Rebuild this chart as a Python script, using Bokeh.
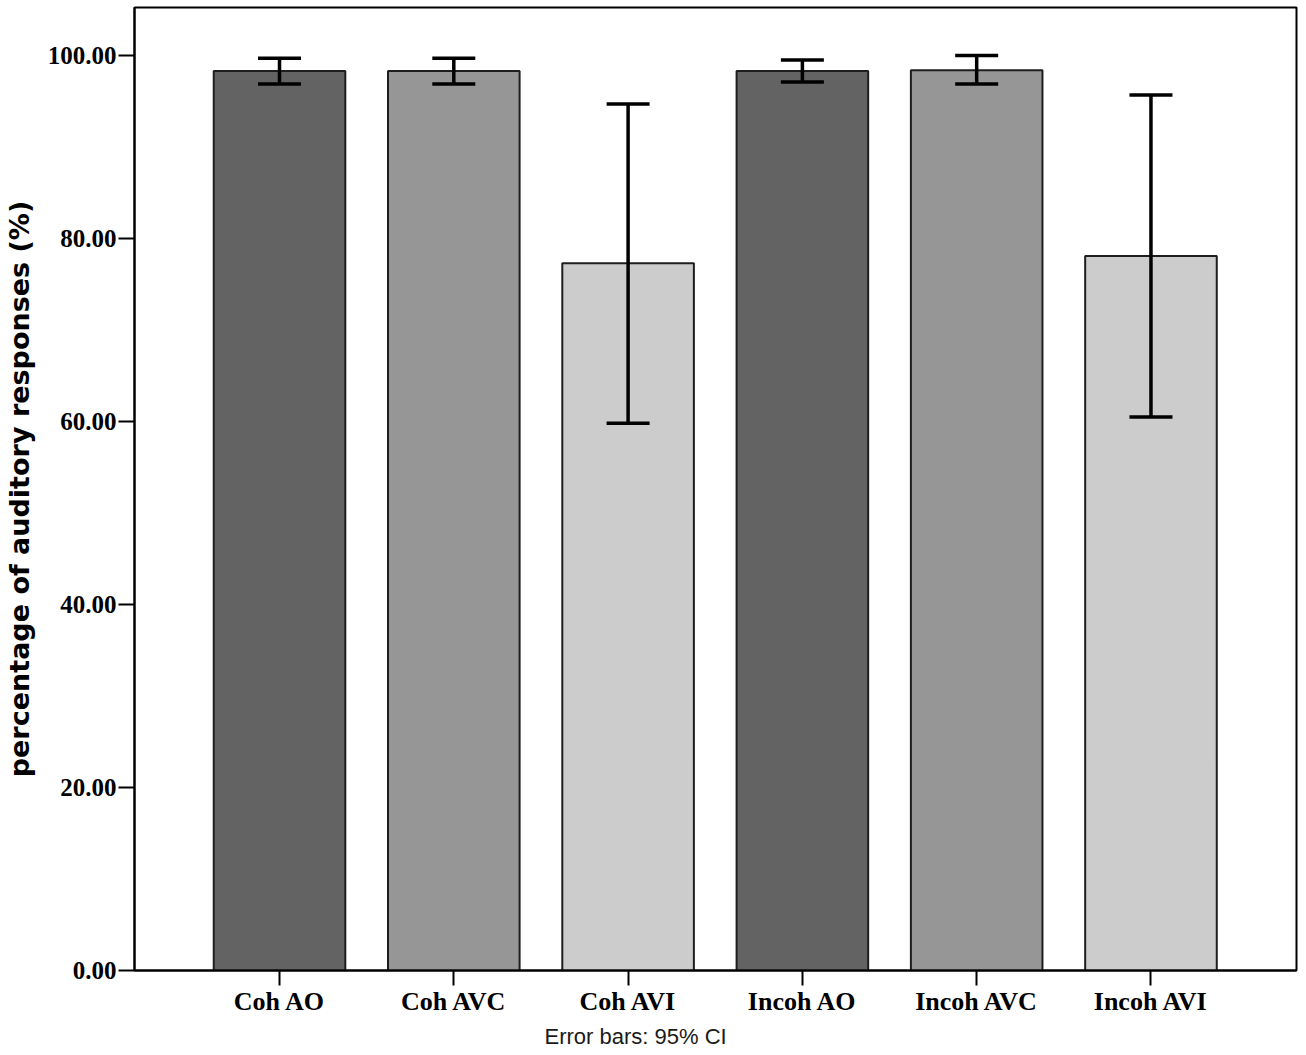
from bokeh.plotting import figure
from bokeh.models import (Range1d, FixedTicker, Whisker, TeeHead, ColumnDataSource,
                          Title, PrintfTickFormatter)
from bokeh.embed import file_html
from bokeh.resources import INLINE

# ---- data ----
categories = ["Coh AO", "Coh AVC", "Coh AVI", "Incoh AO", "Incoh AVC", "Incoh AVI"]
means = [98.3, 98.3, 77.3, 98.3, 98.4, 78.1]
ci_lower = [96.9, 96.9, 59.8, 97.1, 96.9, 60.5]
ci_upper = [99.7, 99.7, 94.7, 99.5, 100.0, 95.7]
bar_colors = ["#636363", "#969696", "#cccccc", "#636363", "#969696", "#cccccc"]
y_ticks = [0, 20, 40, 60, 80, 100]

positions = list(range(1, len(categories) + 1))

src = ColumnDataSource(dict(x=positions, top=means, lower=ci_lower,
                            upper=ci_upper, color=bar_colors))

p = figure(frame_width=1162, frame_height=963,
           x_range=Range1d(0.168, 6.835), y_range=Range1d(0, 105.25),
           output_backend="svg", toolbar_location=None,
           min_border_left=132, min_border_top=7, min_border_right=3,
           min_border_bottom=0)

p.background_fill_color = "white"
p.border_fill_color = "white"
p.outline_line_color = "black"
p.outline_line_width = 2
p.xgrid.visible = False
p.ygrid.visible = False

p.vbar(x="x", top="top", width=0.755, bottom=0, source=src,
       fill_color="color", line_color="#1e1e1e", line_width=2)

w = Whisker(source=src, base="x", upper="upper", lower="lower",
            line_color="black", line_width=3.5, level="overlay",
            upper_head=TeeHead(size=43, line_width=3.5, line_color="black"),
            lower_head=TeeHead(size=43, line_width=3.5, line_color="black"))
p.add_layout(w)

# y axis
ya = p.yaxis[0]
ya.ticker = FixedTicker(ticks=y_ticks)
ya.formatter = PrintfTickFormatter(format="%.2f")
ya.major_tick_out = 16
ya.major_tick_in = 0
ya.minor_tick_out = 0
ya.minor_tick_in = 0
ya.major_tick_line_width = 2
ya.axis_line_width = 2
ya.axis_line_color = "black"
ya.major_tick_line_color = "black"
ya.major_label_text_font = "Liberation Serif"
ya.major_label_text_font_style = "bold"
ya.major_label_text_font_size = "25px"
ya.major_label_text_color = "black"
ya.major_label_standoff = 2
ya.axis_label = "percentage of auditory responses (%)"
ya.axis_label_text_font = "DejaVu Sans"
ya.axis_label_text_font_style = "bold"
ya.axis_label_text_font_size = "27px"
ya.axis_label_text_color = "black"
ya.axis_label_standoff = 10

# x axis
xa = p.xaxis[0]
xa.ticker = FixedTicker(ticks=positions)
xa.major_label_overrides = {pos: lab for pos, lab in zip(positions, categories)}
xa.major_tick_out = 15
xa.major_tick_in = 0
xa.minor_tick_out = 0
xa.minor_tick_in = 0
xa.major_tick_line_width = 2
xa.axis_line_width = 2
xa.axis_line_color = "black"
xa.major_tick_line_color = "black"
xa.major_label_text_font = "Liberation Serif"
xa.major_label_text_font_style = "bold"
xa.major_label_text_font_size = "26px"
xa.major_label_text_color = "black"
xa.major_label_standoff = 1

foot = Title(text="Error bars: 95% CI", align="left", offset=410,
             text_font="Liberation Sans", text_font_size="22px",
             text_font_style="normal", text_color="#1a1a1a", standoff=6)
p.add_layout(foot, "below")

open("out.html", "w").write(file_html(p, INLINE))
